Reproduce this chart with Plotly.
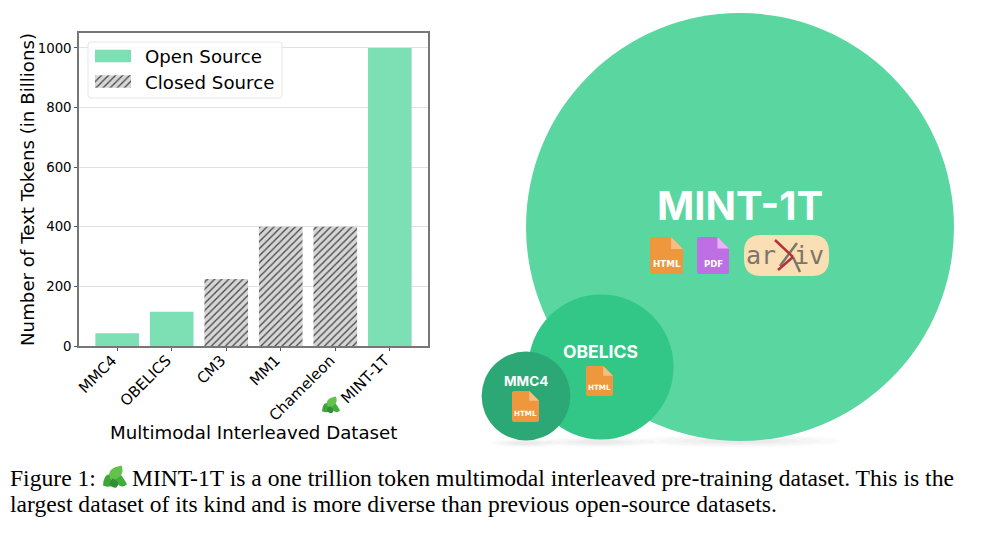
"""MINT-1T figure: token bar chart plus area-scaled dataset circles"""
import plotly.graph_objects as go

W, H = 993, 533

# bar chart data
datasets = ["MMC4", "OBELICS", "CM3", "MM1", "Chameleon", "MINT-1T"]
tokens = [43, 115, 225, 400, 400, 1000]
is_open = [True, True, False, False, False, True]
y_ticks = [0, 200, 400, 600, 800, 1000]

# circle diagram data, area follows the token count
circle_names = ["MINT-1T", "OBELICS", "MMC4"]
circle_tokens = [1000, 115, 43]
circle_colors = ["#5AD6A0", "#32C787", "#2BA876"]
circle_x = [740, 601, 526]
circle_y = [227, 367, 396]

FONT = "DejaVu Sans"
BOLD_FONT = "Inter"
GREEN = "#7DE0B4"
HATCH_BG = "#D6D6D6"
HATCH_FG = "#787878"
ORANGE = "#EE973C"
PURPLE = "#BF6FE4"

shapes = []
annotations = []


def text(x, y, s, size, color="black", family=FONT, weight=400, anchor="center", **kw):
    annotations.append(dict(
        x=x, y=y, xref="x2", yref="y2", text=s, showarrow=False, xanchor=anchor, yanchor="middle",
        font=dict(size=size, color=color, family=family, weight=weight), **kw
    ))


def path(d, fill, layer="above", line=None):
    shapes.append(dict(
        type="path", path=d, xref="x2", yref="y2", fillcolor=fill, layer=layer,
        line=dict(width=0) if line is None else line
    ))


def rounded_rect(x0, y0, x1, y1, r):
    return (f"M{x0 + r},{y0} L{x1 - r},{y0} Q{x1},{y0} {x1},{y0 + r} L{x1},{y1 - r} Q{x1},{y1} {x1 - r},{y1} "
            f"L{x0 + r},{y1} Q{x0},{y1} {x0},{y1 - r} L{x0},{y0 + r} Q{x0},{y0} {x0 + r},{y0} Z")


def doc_icon(x0, y0, w, h, color, fold, label):
    """file icon with a folded corner"""
    f = w * 0.36
    r = 2
    x1, y1 = x0 + w, y0 + h
    path(f"M{x0 + r},{y0} L{x1 - f},{y0} L{x1},{y0 + f} L{x1},{y1 - r} Q{x1},{y1} {x1 - r},{y1} "
         f"L{x0 + r},{y1} Q{x0},{y1} {x0},{y1 - r} L{x0},{y0 + r} Q{x0},{y0} {x0 + r},{y0} Z", color)
    path(f"M{x1 - f},{y0} L{x1},{y0 + f} L{x1 - f},{y0 + f} Z", fold)
    text(x0 + w / 2, y0 + h * 0.72, label, w * 0.265, "white", "DejaVu Sans", 700)


def leaf(cx, cy, s):
    """small mint sprig, s is the half width in px"""
    def blade(x0, y0, x1, y1, c1x, c1y, c2x, c2y, color):
        path(f"M{cx + x0 * s},{cy + y0 * s} Q{cx + c1x * s},{cy + c1y * s} {cx + x1 * s},{cy + y1 * s} "
             f"Q{cx + c2x * s},{cy + c2y * s} {cx + x0 * s},{cy + y0 * s} Z", color)
    blade(0.1, 0.0, -1.0, 0.7, -0.9, -0.7, 0.0, 1.1, "#3FA53B")
    blade(-0.1, 0.0, 1.0, 0.6, 0.2, -0.9, 0.4, 1.2, "#43AC3E")
    blade(-0.3, 0.3, 0.55, -0.95, -0.9, -0.7, 0.9, 0.0, "#62C24D")
    blade(-0.2, 0.1, 0.1, 0.9, -0.8, 0.8, 0.6, 0.5, "#2F8F35")


fig = go.Figure()

# bars
fig.add_trace(go.Bar(
    x=datasets, y=tokens, width=0.8, showlegend=False,
    marker=dict(
        color=[GREEN if o else HATCH_BG for o in is_open],
        line=dict(width=0),
        pattern=dict(
            shape=["" if o else "/" for o in is_open],
            fgcolor=HATCH_FG, fgopacity=1, size=5, solidity=0.25, fillmode="overlay"
        )
    )
))

# legend built by hand, plotly's own bar swatch is a fixed 12px square
path(rounded_rect(88, 42, 282, 98, 3), "rgba(255,255,255,0.85)", "below", dict(color="#E6E6E6", width=1))
fig.add_trace(go.Bar(
    x=[36, 36], y=[56, 81.5], base=95, orientation="h", width=12.5, xaxis="x2", yaxis="y2", showlegend=False,
    marker=dict(
        color=[GREEN, HATCH_BG], line=dict(width=0),
        pattern=dict(shape=["", "/"], fgcolor=HATCH_FG, fgopacity=1, size=5, solidity=0.25, fillmode="overlay")
    )
))
text(143, 56, "Open Source", 18.2, anchor="left")
text(143, 82, "Closed Source", 18.2, anchor="left")

# axis titles placed by hand, the native ones move with the tick label box
text(27, 190, "Number of Text Tokens (in Billions)", 18.2, textangle=-90)
text(253, 432, "Multimodal Interleaved Dataset", 18.2)

# soft shadows under the circles
for cx, cy, rx, ry in [(740, 441, 100, 6), (600, 442, 55, 5), (526, 443, 34, 4)]:
    for k in range(4):
        grow = 1 - k * 0.2
        shapes.append(dict(
            type="circle", xref="x2", yref="y2", layer="below", line=dict(width=0),
            fillcolor="rgba(120,120,120,0.04)",
            x0=cx - rx * grow, x1=cx + rx * grow, y0=cy - ry * grow, y1=cy + ry * grow
        ))

# circles, radius 214px for 1000 tokens
fig.add_trace(go.Scatter(
    x=circle_x, y=circle_y, xaxis="x2", yaxis="y2", mode="markers", showlegend=False, cliponaxis=False,
    marker=dict(
        size=circle_tokens, sizemode="area", sizeref=500 / 214 ** 2,
        color=circle_colors, opacity=1, line=dict(width=0)
    )
))

text(740, 205, "MINT-1T", 40, "white", BOLD_FONT, 700)
text(600, 351, "OBELICS", 17.5, "white", BOLD_FONT, 700)
text(526, 381, "MMC4", 13.5, "white", BOLD_FONT, 700)

doc_icon(650, 237, 33, 37, ORANGE, "#F6BE82", "HTML")
doc_icon(697, 237, 32, 37, PURPLE, "#EBB4F5", "PDF")
doc_icon(586, 366, 27, 30, ORANGE, "#F6BE82", "HTML")
doc_icon(512, 391, 27, 31, ORANGE, "#F6BE82", "HTML")

# arXiv badge
path(rounded_rect(744, 235, 829, 276, 17), "#FADFB4")
text(761, 255, "ar", 25, "#7D756A", "DejaVu Sans Mono")
text(809, 255, "iv", 25, "#7D756A", "DejaVu Sans Mono")
path("M793,257 L800,272", "rgba(0,0,0,0)", line=dict(color="#7D756A", width=2.5))
path("M797,243 L780,266", "rgba(0,0,0,0)", line=dict(color="#7D756A", width=2.5))
path("M775,240 L793,257", "rgba(0,0,0,0)", line=dict(color="#B5313C", width=2.5))
path("M793,257 L778,270", "rgba(0,0,0,0)", line=dict(color="#B5313C", width=2.5))

# caption
SERIF = "Liberation Serif"
text(7.5, 478, "Figure 1:", 23.6, family=SERIF, anchor="left")
leaf(115, 477, 12)
text(130, 478, "MINT-1T is a one trillion token multimodal interleaved pre-training dataset. This is the",
     23.6, family=SERIF, anchor="left")
text(7.5, 504, "largest dataset of its kind and is more diverse than previous open-source datasets.",
     23.6, family=SERIF, anchor="left")

# leaf in front of the MINT-1T tick label
leaf(331, 405, 9)

fig.update_layout(
    width=W, height=H, autosize=False, margin=dict(l=0, r=0, t=0, b=0),
    paper_bgcolor="white", plot_bgcolor="rgba(0,0,0,0)", showlegend=False, bargap=0.2,
    font=dict(family=FONT, color="black"),
    shapes=shapes, annotations=annotations,
    xaxis=dict(
        domain=[79 / W, 428 / W], range=[-0.7, 5.7], tickangle=-45, tickfont=dict(size=15),
        ticks="outside", ticklen=3, tickcolor="#555", showline=True, linecolor="#777", linewidth=1.5,
        mirror=True, showgrid=False, automargin=False, ticklabelstandoff=-5, ticklabelshift=-5
    ),
    yaxis=dict(
        domain=[1 - 346 / H, 1 - 33 / H], range=[0, 1050], tickvals=y_ticks, tickfont=dict(size=13.3),
        ticks="outside", ticklen=3, tickcolor="#555", showline=True, linecolor="#777", linewidth=1.5,
        mirror=True, showgrid=True, gridcolor="#E2E2E2", zeroline=False, automargin=False
    ),
    xaxis2=dict(domain=[0, 1], range=[0, W], visible=False, anchor="y2", fixedrange=True),
    yaxis2=dict(domain=[0, 1], range=[H, 0], visible=False, anchor="x2", fixedrange=True),
)

# drop the browser's default body margin so the page sits at 0,0
fig.write_html("out.html", config={"displayModeBar": False}, post_script="document.body.style.margin = '0';")
